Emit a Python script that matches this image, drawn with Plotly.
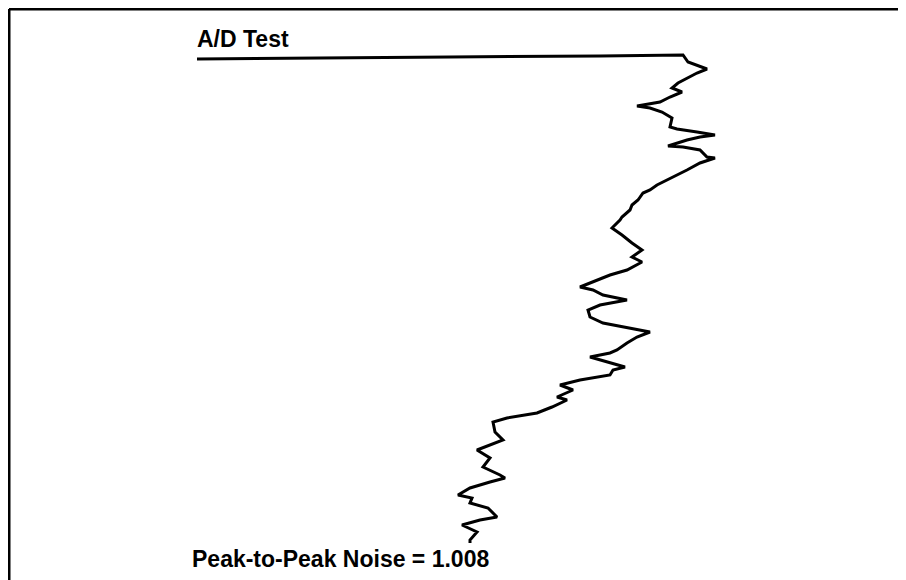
import plotly.graph_objects as go

# A/D reading (horizontal) vs sample number (vertical, increasing downward)
reading = [197, 300, 450, 600, 683,
           688, 707, 697, 690, 678, 672, 682, 670, 660, 637, 650, 662, 672, 670, 677,
           697, 715, 700, 687, 668, 683, 700, 707, 715, 700, 687, 673, 663, 657, 650,
           643, 638, 632, 630, 622, 620, 612, 622, 632, 642, 632, 642, 627, 610, 597,
           580, 593, 603, 627, 600, 588, 590, 603, 650, 637, 627, 617, 610, 590, 607,
           625, 613, 610, 580, 560, 573, 557, 567, 552, 537, 507, 493, 495, 503, 490,
           477, 490, 483, 500, 505, 490, 470, 458, 472, 470, 488, 497, 480, 462, 477,
           470, 470]
sample = [59, 58, 57, 56, 55,
          62, 69, 73, 77, 83, 88, 92, 97, 102, 106, 108, 112, 118, 127, 129,
          132, 135, 137, 140, 146, 147, 150, 157, 158, 163, 170, 177, 182, 185, 190,
          193, 200, 205, 210, 217, 220, 228, 235, 243, 250, 257, 262, 270, 275, 280,
          287, 290, 295, 300, 305, 310, 317, 323, 332, 337, 343, 350, 353, 357, 362,
          367, 370, 375, 380, 385, 390, 397, 400, 407, 413, 418, 422, 432, 440, 445,
          450, 458, 467, 475, 478, 482, 488, 495, 498, 503, 508, 517, 520, 525, 532,
          540, 543]

title_text = "A/D Test"
noise_text = "Peak-to-Peak Noise = 1.008"

FONT = "Liberation Sans, Arial, Helvetica, sans-serif"
OFF = 8  # page body margin

fig = go.Figure()
fig.add_trace(go.Scatter(
    x=reading, y=sample, mode="lines",
    line=dict(color="black", width=3),
    hoverinfo="skip", showlegend=False,
))

fig.add_annotation(x=195, y=48, xref="x", yref="y", text="<b>" + title_text + "</b>",
                   showarrow=False, xanchor="left", yanchor="bottom",
                   font=dict(family=FONT, size=23, color="black"), yshift=-6)
fig.add_annotation(x=190, y=568, xref="x", yref="y", text="<b>" + noise_text + "</b>",
                   showarrow=False, xanchor="left", yanchor="bottom",
                   font=dict(family=FONT, size=23, color="black"), yshift=-6)

# frame (top and left edges visible)
fig.add_shape(type="line", x0=9, x1=920, y0=9, y1=9, xref="x", yref="y",
              line=dict(color="black", width=3))
fig.add_shape(type="line", x0=9, x1=9, y0=9, y1=600, xref="x", yref="y",
              line=dict(color="black", width=3))

fig.update_xaxes(range=[OFF, 906 + OFF], visible=False, fixedrange=True)
fig.update_yaxes(range=[580 + OFF, OFF], visible=False, fixedrange=True)
fig.update_layout(width=906, height=580, margin=dict(l=0, r=0, t=0, b=0),
                  plot_bgcolor="white", paper_bgcolor="white")

fig.write_html("out.html", config={"displayModeBar": False})
